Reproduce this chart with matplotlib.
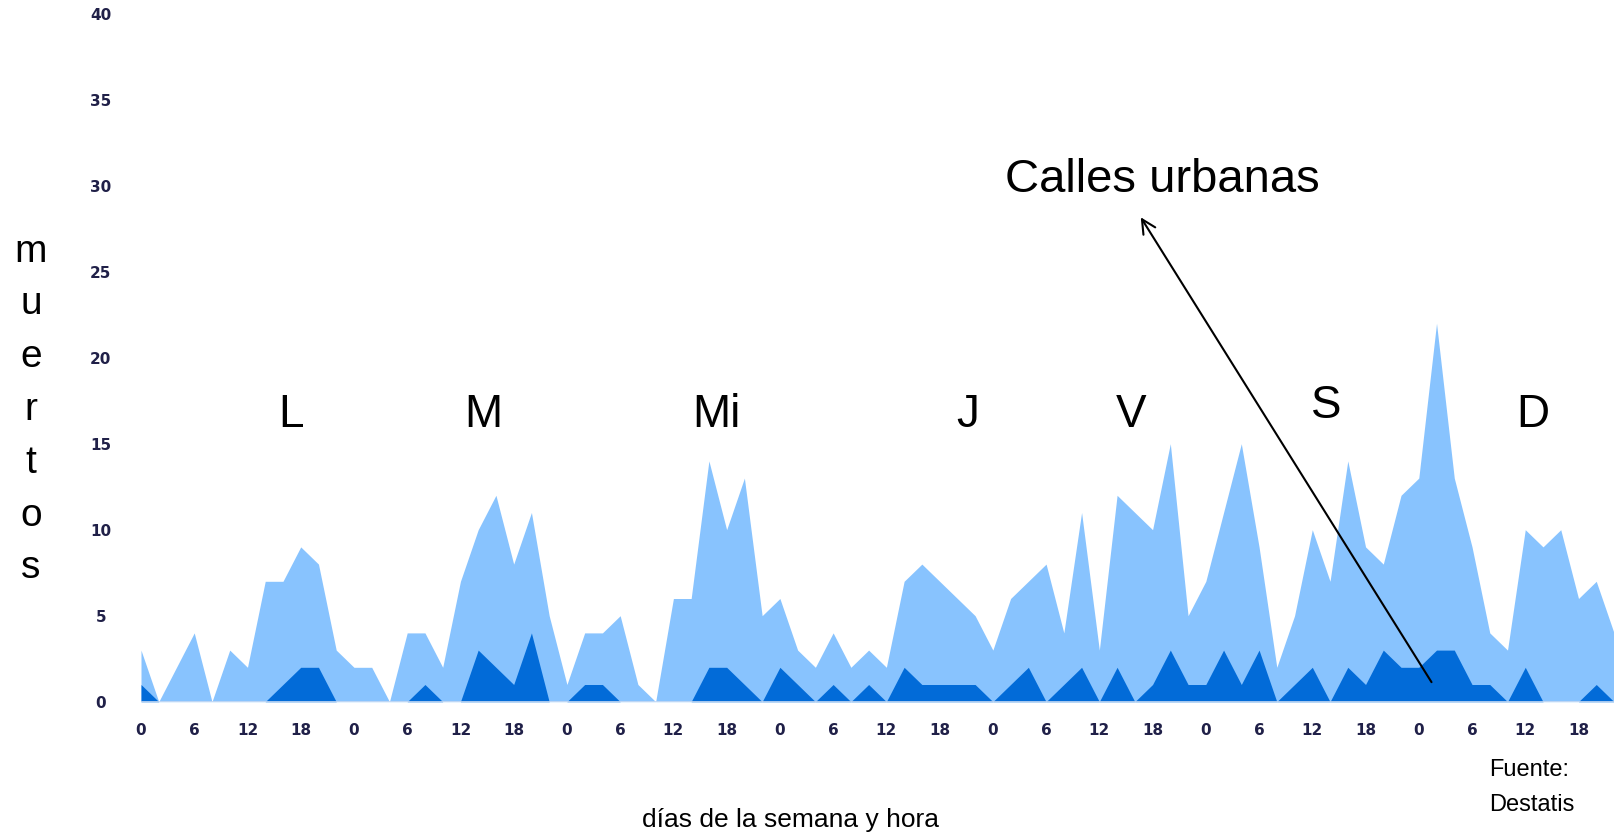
# -*- coding: utf-8 -*-

import numpy as np
import matplotlib.pyplot as plt

# datos cada 2 horas, lunes 0h .. domingo 22h
horas = np.arange(0, 168, 2)
total = [3, 0, 2, 4, 0, 3, 2, 7, 7, 9,
         8, 3, 2, 2, 0, 4, 4, 2, 7, 10,
         12, 8, 11, 5, 1, 4, 4, 5, 1, 0,
         6, 6, 14, 10, 13, 5, 6, 3, 2, 4,
         2, 3, 2, 7, 8, 7, 6, 5, 3, 6,
         7, 8, 4, 11, 3, 12, 11, 10, 15, 5,
         7, 11, 15, 9, 2, 5, 10, 7, 14, 9,
         8, 12, 13, 22, 13, 9, 4, 3, 10, 9,
         10, 6, 7, 4]
urbanas = [1, 0, 0, 0, 0, 0, 0, 0, 1, 2,
           2, 0, 0, 0, 0, 0, 1, 0, 0, 3,
           2, 1, 4, 0, 0, 1, 1, 0, 0, 0,
           0, 0, 2, 2, 1, 0, 2, 1, 0, 1,
           0, 1, 0, 2, 1, 1, 1, 1, 0, 1,
           2, 0, 1, 2, 0, 2, 0, 1, 3, 1,
           1, 3, 1, 3, 0, 1, 2, 0, 2, 1,
           3, 2, 2, 3, 3, 1, 1, 0, 2, 0,
           0, 0, 1, 0]
dias = ['L', 'M', 'Mi', 'J', 'V', 'S', 'D']
ticks_x = np.arange(0, 168, 6)
ticks_x_labels = [str(h % 24) for h in ticks_x]
ticks_y = np.arange(0, 45, 5)


def draw():
    fig = plt.figure(figsize=(16.14, 8.35), dpi=100)
    ax = fig.add_axes([141 / 1614, 1 - 701.7 / 835, 1 - 141 / 1614, (701.7 - 13.7) / 835])
    ax.fill_between(horas, total, color='#88c3fe', lw=0)
    ax.fill_between(horas, urbanas, color='#026bd8', lw=0)
    ax.axhline(0, color='#c9daf2', lw=1.2)
    ax.set_xlim(0, 166)
    ax.set_ylim(0, 40)
    for s in ax.spines.values():
        s.set_visible(False)
    ax.set_xticks(ticks_x)
    ax.set_xticklabels(ticks_x_labels)
    ax.set_yticks(ticks_y)
    ax.tick_params(length=0, labelsize=11, labelcolor='#202048')
    ax.tick_params(axis='x', pad=15)
    ax.tick_params(axis='y', pad=29)
    for t in ax.get_xticklabels() + ax.get_yticklabels():
        t.set_fontweight('bold')
    for t in ax.get_yticklabels():
        t.set_horizontalalignment('center')

    # letras de los dias
    pos_dias = [16.9, 38.6, 64.9, 93.2, 111.6, 133.6, 156.8]
    for d, x in zip(dias, pos_dias):
        y = 16.5 if d == 'S' else 16.0
        ax.text(x, y, d, fontsize=33, family='Liberation Sans', ha='center', va='baseline')

    ax.annotate('', xy=(112.5, 28.3), xytext=(145.6, 1.0),
                arrowprops=dict(arrowstyle='->', color='black', lw=1.5, mutation_scale=25),
                annotation_clip=False)
    ax.text(115.1, 29.65, 'Calles urbanas', fontsize=34, family='Liberation Sans',
            ha='center', va='baseline')

    fig.text(31 / 1614, 1 - 410 / 835, '\n'.join('muertos'), fontsize=28,
             family='Liberation Sans', ha='center', va='center', linespacing=1.6)
    fig.text(790 / 1614, 1 - 827 / 835, 'días de la semana y hora', fontsize=19,
             family='Liberation Sans', ha='center', va='baseline')
    fig.text(1489 / 1614, 1 - 776 / 835, 'Fuente:', fontsize=17,
             family='Liberation Sans', ha='left', va='baseline')
    fig.text(1489 / 1614, 1 - 811 / 835, 'Destatis', fontsize=17,
             family='Liberation Sans', ha='left', va='baseline')

    plt.savefig('out.png', dpi=100)
    plt.close('all')


if __name__ == "__main__":
    draw()
